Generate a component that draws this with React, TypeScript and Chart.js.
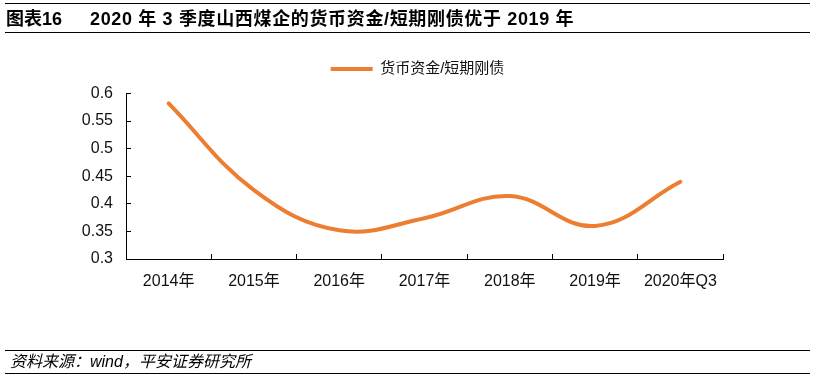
import React, { useEffect, useRef } from "react";
import { Chart, registerables } from "chart.js";

Chart.register(...registerables);

const categories = ["2014年", "2015年", "2016年", "2017年", "2018年", "2019年", "2020年Q3"];
const seriesName = "货币资金/短期刚债";
const seriesValues = [0.582, 0.425, 0.352, 0.374, 0.414, 0.36, 0.44];
const yMin = 0.3;
const yMax = 0.6;
const yStep = 0.05;

const titleLabel = "图表16";
const titleText = "2020 年 3 季度山西煤企的货币资金/短期刚债优于 2019 年";
const sourceText = "资料来源：wind，平安证券研究所";

const ORANGE = "#ED7D31";
const FONT = "'Liberation Sans', Arial, 'Noto Sans CJK SC', sans-serif";

const legendShift = {
  id: "legendShift",
  afterLayout(chart: any) {
    const lg = chart.legend;
    if (!lg) return;
    lg.left += 56;
    lg.right += 56;
    lg.top -= 7;
    lg.bottom -= 7;
  },
};

export default function App() {
  const canvasRef = useRef<HTMLCanvasElement | null>(null);

  useEffect(() => {
    document.body.style.margin = "0";
    const canvas = canvasRef.current;
    if (!canvas) return;
    const chart = new Chart(canvas, {
      type: "line",
      data: {
        labels: categories,
        datasets: [
          {
            label: seriesName,
            data: seriesValues,
            borderColor: ORANGE,
            backgroundColor: ORANGE,
            borderWidth: 4,
            borderCapStyle: "round",
            pointRadius: 0,
            pointHoverRadius: 0,
            tension: 0.4,
            fill: false,
            clip: false as any,
          },
        ],
      },
      options: {
        animation: false,
        responsive: false,
        devicePixelRatio: 1,
        layout: { padding: { left: 0, right: 94, top: 51, bottom: 0 } },
        plugins: {
          tooltip: { enabled: false },
          legend: {
            display: true,
            position: "top",
            labels: {
              usePointStyle: true,
              pointStyle: "line",
              pointStyleWidth: 42,
              padding: 17.5,
              color: "#111",
              font: { family: FONT, size: 15 },
            },
          },
        },
        scales: {
          x: {
            type: "category",
            offset: true,
            grid: {
              display: true,
              offset: true,
              drawOnChartArea: false,
              drawTicks: true,
              tickLength: -5,
              color: "#000",
            },
            border: { display: true, color: "#000", width: 1 },
            ticks: {
              color: "#111",
              padding: 18,
              maxRotation: 0,
              autoSkip: false,
              font: { family: FONT, size: 16 },
            },
            afterFit: (scale: any) => {
              scale.height = 119;
            },
          },
          y: {
            min: yMin,
            max: yMax,
            grid: {
              display: true,
              drawOnChartArea: false,
              drawTicks: true,
              tickLength: -5,
              color: "#000",
            },
            border: { display: true, color: "#000", width: 1 },
            ticks: {
              stepSize: yStep,
              color: "#111",
              padding: 18,
              font: { family: FONT, size: 16 },
              callback: (v: any) => String(Number(Number(v).toFixed(2))),
            },
            afterFit: (scale: any) => {
              scale.width = 126;
            },
          },
        },
      },
      plugins: [legendShift],
    });
    return () => chart.destroy();
  }, []);

  return (
    <div
      style={{
        position: "absolute",
        left: 0,
        top: 0,
        width: 817,
        height: 378,
        background: "#fff",
        overflow: "hidden",
        fontFamily: FONT,
      }}
    >
      <canvas
        ref={canvasRef}
        width={817}
        height={378}
        style={{ position: "absolute", left: 0, top: 0, width: 817, height: 378 }}
      />
      <div style={{ position: "absolute", left: 5, top: 3, width: 805, height: 1, background: "#000" }} />
      <div
        style={{
          position: "absolute",
          left: 6,
          top: 7,
          height: 24,
          lineHeight: "24px",
          fontSize: 18,
          fontWeight: "bold",
          color: "#000",
          whiteSpace: "nowrap",
        }}
      >
        <span>{titleLabel}</span>
        <span style={{ position: "absolute", left: 84, letterSpacing: "0.65px" }}>{titleText}</span>
      </div>
      <div style={{ position: "absolute", left: 5, top: 32, width: 805, height: 1, background: "#000" }} />
      <div style={{ position: "absolute", left: 5, top: 350, width: 805, height: 1, background: "#000" }} />
      <div
        style={{
          position: "absolute",
          left: 10,
          top: 352,
          height: 20,
          lineHeight: "20px",
          fontSize: 16,
          fontStyle: "italic",
          color: "#000",
          whiteSpace: "nowrap",
        }}
      >
        {sourceText}
      </div>
      <div style={{ position: "absolute", left: 5, top: 373, width: 805, height: 1, background: "#000" }} />
    </div>
  );
}
